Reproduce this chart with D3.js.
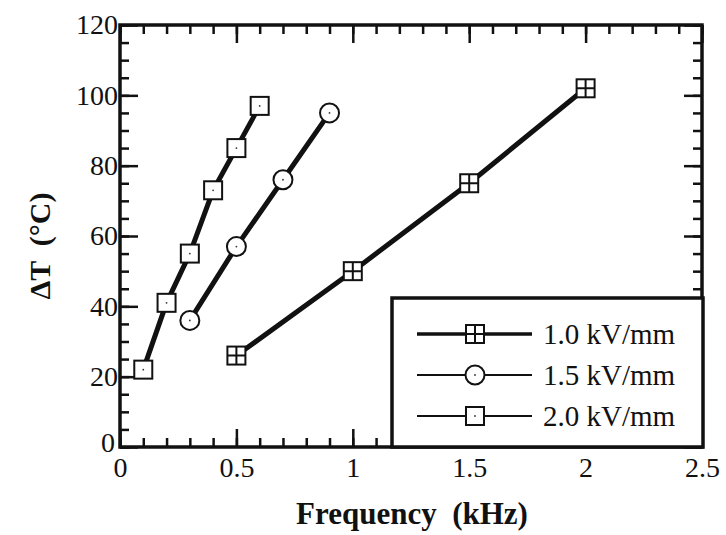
<!DOCTYPE html>
<html>
<head>
<meta charset="utf-8">
<script src="https://cdn.jsdelivr.net/npm/d3@7"></script>
<style>
  body { margin: 0; background: #fff; }
</style>
</head>
<body>
<div id="chart"></div>
<script>
// series data
const seriesNames = ['1.0 kV/mm', '1.5 kV/mm', '2.0 kV/mm'];
const freq10 = [0.5, 1.0, 1.5, 2.0];
const dT10 = [26, 50, 75, 102];
const freq15 = [0.3, 0.5, 0.7, 0.9];
const dT15 = [36, 57, 76, 95];
const freq20 = [0.1, 0.2, 0.3, 0.4, 0.5, 0.6];
const dT20 = [22, 41, 55, 73, 85, 97];

const xMajor = [0, 0.5, 1, 1.5, 2, 2.5];
const xMinor = d3.range(0, 26).map(i => i / 10);
const yMajor = [0, 20, 40, 60, 80, 100, 120];
const yMinor = d3.range(0, 25).map(i => i * 5);

const series = [
  { name: seriesNames[0], x: freq10, y: dT10, marker: 'crossSquare' },
  { name: seriesNames[1], x: freq15, y: dT15, marker: 'circle' },
  { name: seriesNames[2], x: freq20, y: dT20, marker: 'dotSquare' }
];

const serif = '"Liberation Serif", "Times New Roman", Times, "DejaVu Serif", serif';
const width = 726, height = 535;
const pLeft = 120, pTop = 25, pRight = 702, pBottom = 447;

const svg = d3.select('#chart').append('svg')
  .attr('width', width)
  .attr('height', height)
  .style('font-family', serif);

svg.append('rect').attr('width', width).attr('height', height).attr('fill', '#fff');

const xScale = d3.scaleLinear().domain([0, 2.5]).range([pLeft, pRight]);
const yScale = d3.scaleLinear().domain([0, 120]).range([pBottom, pTop]);

// ticks pointing inward on all four sides
function addAxis(axisFn, scale, values, size, pos, labels) {
  const g = svg.append('g')
    .attr('transform', pos)
    .call(axisFn(scale).tickValues(values).tickSize(-size)
      .tickPadding(labels ? 6 : 0)
      .tickFormat(labels ? d3.format('') : ''));
  g.attr('font-family', null).attr('font-size', null);
  g.select('.domain').remove();
  g.selectAll('line').attr('stroke', '#111').attr('stroke-width', 2.5);
  g.selectAll('text')
    .style('font-family', serif)
    .style('font-size', '28px')
    .attr('fill', '#111');
  return g;
}

addAxis(d3.axisBottom, xScale, xMinor, 9, `translate(0,${pBottom})`, false);
const xLab = addAxis(d3.axisBottom, xScale, xMajor, 18, `translate(0,${pBottom})`, true);
xLab.selectAll('text').attr('dy', '0.85em');
addAxis(d3.axisTop, xScale, xMinor, 9, `translate(0,${pTop})`, false);
addAxis(d3.axisTop, xScale, xMajor, 18, `translate(0,${pTop})`, false);

addAxis(d3.axisLeft, yScale, yMinor, 9, `translate(${pLeft},0)`, false);
const yLab = addAxis(d3.axisLeft, yScale, yMajor, 18, `translate(${pLeft},0)`, true);
yLab.selectAll('text').attr('x', -2);
// the two zeros sit corner to corner, nudge the y one up a bit
yLab.selectAll('text').filter(d => d === 0).attr('x', -5).attr('dy', '0.15em');
addAxis(d3.axisRight, yScale, yMinor, 9, `translate(${pRight},0)`, false);
addAxis(d3.axisRight, yScale, yMajor, 18, `translate(${pRight},0)`, false);

// frame
svg.append('rect')
  .attr('x', pLeft).attr('y', pTop)
  .attr('width', pRight - pLeft).attr('height', pBottom - pTop)
  .attr('fill', 'none').attr('stroke', '#111').attr('stroke-width', 3.5);

const line = d3.line().x(d => xScale(d[0])).y(d => yScale(d[1]));

function drawMarker(g, type, cx, cy) {
  if (type === 'circle') {
    g.append('circle').attr('cx', cx).attr('cy', cy).attr('r', 9.5)
      .attr('fill', '#fff').attr('stroke', '#111').attr('stroke-width', 2);
    g.append('circle').attr('cx', cx).attr('cy', cy).attr('r', 0.9).attr('fill', '#333');
  } else {
    g.append('rect').attr('x', cx - 9).attr('y', cy - 9).attr('width', 18).attr('height', 18)
      .attr('fill', '#fff').attr('stroke', '#111').attr('stroke-width', 2);
    if (type === 'crossSquare') {
      g.append('path')
        .attr('d', `M${cx - 9},${cy}H${cx + 9}M${cx},${cy - 9}V${cy + 9}`)
        .attr('stroke', '#111').attr('stroke-width', 2);
    } else {
      g.append('circle').attr('cx', cx).attr('cy', cy).attr('r', 0.9).attr('fill', '#333');
    }
  }
}

series.forEach(s => {
  const pts = s.x.map((v, i) => [v, s.y[i]]);
  svg.append('path')
    .datum(pts)
    .attr('d', line)
    .attr('fill', 'none')
    .attr('stroke', '#111')
    .attr('stroke-width', 5);
  const g = svg.append('g');
  pts.forEach(p => drawMarker(g, s.marker, xScale(p[0]), yScale(p[1])));
});

// legend
const legend = svg.append('g');
legend.append('rect')
  .attr('x', 392).attr('y', 298).attr('width', 311).attr('height', pBottom - 298)
  .attr('fill', '#fff').attr('stroke', '#111').attr('stroke-width', 3.5);

series.forEach((s, i) => {
  const ly = 334 + i * 41;
  legend.append('line')
    .attr('x1', 417).attr('x2', 532).attr('y1', ly).attr('y2', ly)
    .attr('stroke', '#111').attr('stroke-width', i === 0 ? 3.5 : 2.2);
  drawMarker(legend, s.marker, 475, ly);
  legend.append('text')
    .attr('x', 543).attr('y', ly)
    .attr('dy', '0.35em')
    .style('font-family', serif)
    .style('font-size', '29px')
    .attr('fill', '#111')
    .text(s.name);
});

// axis titles
svg.append('text')
  .attr('x', 412)
  .attr('y', 524)
  .attr('text-anchor', 'middle')
  .style('font-family', serif)
  .style('font-size', '31px')
  .style('font-weight', 'bold')
  .attr('fill', '#111')
  .attr('xml:space', 'preserve')
  .text('Frequency  (kHz)');

svg.append('text')
  .attr('transform', `translate(50,${(pTop + pBottom) / 2 + 10}) rotate(-90)`)
  .attr('text-anchor', 'middle')
  .style('font-family', serif)
  .style('font-size', '30px')
  .style('font-weight', 'bold')
  .attr('fill', '#111')
  .attr('xml:space', 'preserve')
  .text('ΔT  (°C)');
</script>
</body>
</html>
